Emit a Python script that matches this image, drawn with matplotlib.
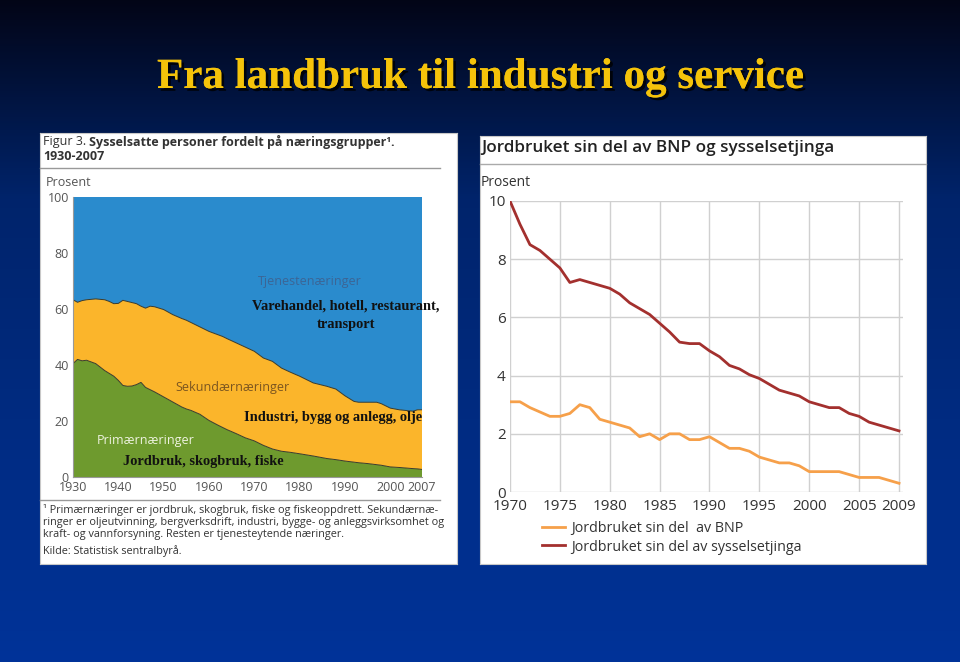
import numpy as np
import matplotlib
matplotlib.use("Agg")
import matplotlib.pyplot as plt
import matplotlib.patheffects as pe

W, H = 960, 662

# --- Figur 3: sysselsatte etter naeringsgruppe (prosent) ---
aar = [1930, 1931, 1932, 1933, 1935, 1937, 1938, 1939, 1940, 1941, 1942, 1943, 1944,
       1945, 1946, 1947, 1948, 1950, 1952, 1954, 1955, 1956, 1958, 1960, 1962, 1963,
       1964, 1966, 1968, 1970, 1972, 1974, 1976, 1978, 1980, 1983, 1985, 1986, 1988,
       1990, 1992, 1993, 1995, 1997, 1998, 2000, 2002, 2005, 2006, 2007]
primaer = [40.5, 42.0, 41.5, 41.7, 40.5, 38.0, 37.0, 36.0, 34.5, 32.7, 32.4, 32.5, 33.0,
           33.8, 32.0, 31.2, 30.4, 28.6, 26.8, 25.0, 24.3, 23.8, 22.4, 20.2, 18.5, 17.7,
           16.9, 15.5, 14.0, 12.9, 11.3, 10.0, 9.2, 8.8, 8.3, 7.5, 6.9, 6.6, 6.2,
           5.7, 5.3, 5.1, 4.8, 4.4, 4.2, 3.6, 3.4, 3.0, 2.9, 2.7]
sekundaer = [22.8, 20.4, 21.5, 21.6, 23.1, 25.3, 25.7, 25.9, 27.5, 30.4, 30.3, 29.8, 28.9,
             27.2, 28.3, 29.8, 30.4, 31.2, 31.2, 31.6, 31.7, 31.4, 31.2, 31.8, 32.3, 32.5,
             32.5, 32.4, 32.4, 32.0, 31.2, 31.3, 29.7, 28.6, 27.7, 26.1, 25.9, 25.8, 25.2,
             23.3, 21.7, 21.6, 21.9, 22.3, 22.0, 21.0, 20.6, 20.5, 21.1, 21.3]
tertiaer = [100 - p - s for p, s in zip(primaer, sekundaer)]
venstre_xticks = [1930, 1940, 1950, 1960, 1970, 1980, 1990, 2000, 2007]

# --- Jordbruket sin del av BNP og sysselsetjinga ---
aar2 = list(range(1970, 2010))
bnp = [3.1, 3.1, 2.9, 2.75, 2.6, 2.6, 2.7, 3.0, 2.9, 2.5,
       2.4, 2.3, 2.2, 1.9, 2.0, 1.8, 2.0, 2.0, 1.8, 1.8,
       1.9, 1.7, 1.5, 1.5, 1.4, 1.2, 1.1, 1.0, 1.0, 0.9,
       0.7, 0.7, 0.7, 0.7, 0.6, 0.5, 0.5, 0.5, 0.4, 0.3]
syss = [10.0, 9.2, 8.5, 8.3, 8.0, 7.7, 7.2, 7.3, 7.2, 7.1,
        7.0, 6.8, 6.5, 6.3, 6.1, 5.8, 5.5, 5.15, 5.1, 5.1,
        4.85, 4.65, 4.35, 4.23, 4.03, 3.9, 3.7, 3.5, 3.4, 3.3,
        3.1, 3.0, 2.9, 2.9, 2.7, 2.6, 2.4, 2.3, 2.2, 2.1]
hoyre_xticks = [1970, 1975, 1980, 1985, 1990, 1995, 2000, 2005, 2009]


def rect(x0, y0, x1, y1):
    return [x0 / W, 1 - y1 / H, (x1 - x0) / W, (y1 - y0) / H]


def fx(x):
    return x / W


def fy(y):
    return 1 - y / H


fig = plt.figure(figsize=(9.6, 6.62), dpi=100)

# background gradient
bg = fig.add_axes([0, 0, 1, 1], zorder=-10)
rows = np.linspace(0, 1, 300)[:, None]
top = np.array([0.01, 0.02, 0.09])
mid = np.array([0.0, 0.14, 0.42])
bot = np.array([0.0, 0.20, 0.60])
t1 = np.clip(rows / 0.3, 0, 1)
t2 = np.clip((rows - 0.3) / 0.7, 0, 1)
grad = np.where(rows < 0.3, top + (mid - top) * t1, mid + (bot - mid) * t2)
bg.imshow(grad[:, None, :].repeat(2, axis=1), aspect="auto", extent=[0, 1, 0, 1])
bg.set_axis_off()

# title
bg.text(0.5, fy(78), "Fra landbruk til industri og service", ha="center", va="center",
        family="Liberation Serif", weight="bold", fontsize=31, color="#f5c30a",
        path_effects=[pe.withSimplePatchShadow(offset=(2, -2), shadow_rgbFace="#000000", alpha=0.8), pe.Normal()])

# white panels (as axes behind the charts)
p1 = fig.add_axes(rect(40, 133, 457, 564), zorder=-5)
p2 = fig.add_axes(rect(480, 136, 926, 564), zorder=-5)
for p in (p1, p2):
    p.set_facecolor("white")
    p.set_xticks([])
    p.set_yticks([])
    for s in p.spines.values():
        s.set_color("#c8c8c8")
        s.set_linewidth(0.8)

sans = "Open Sans"
grey = "#555555"
serif_kw = dict(family="Liberation Serif", weight="bold", fontsize=10.4,
                ha="center", va="center", color="#111111")

# ---------- left chart ----------
t = fig.text(fx(43), fy(142), "Figur 3. ", family=sans, fontsize=9, color="#333333", va="center")
p1.annotate("Sysselsatte personer fordelt på næringsgrupper¹.", xy=(1, 0.5), xycoords=t,
            va="center", ha="left", family=sans, fontsize=9, weight="bold", color="#333333",
            annotation_clip=False)
fig.text(fx(43), fy(157), "1930-2007", family=sans, fontsize=9, weight="bold", color="#333333", va="center")
fig.add_artist(plt.Line2D([fx(40), fx(440)], [fy(168), fy(168)], color="#999999", lw=1))
fig.text(fx(46), fy(182), "Prosent", family=sans, fontsize=9, color=grey, va="center")

ax1 = fig.add_axes(rect(73, 197, 422, 477))
ax1.stackplot(aar, primaer, sekundaer, tertiaer,
              colors=["#6e9a2e", "#fbb52b", "#2a8bcd"], lw=0)
ax1.plot(aar, primaer, color="#3a3a2a", lw=0.7)
ax1.plot(aar, [p + s for p, s in zip(primaer, sekundaer)], color="#3a3a2a", lw=0.7)
ax1.set_xlim(1930, 2007)
ax1.set_ylim(0, 100)
ax1.set_xticks(venstre_xticks)
ax1.set_yticks([0, 20, 40, 60, 80, 100])
ax1.tick_params(length=0, labelsize=9, labelcolor=grey, pad=3)
for lab in ax1.get_xticklabels() + ax1.get_yticklabels():
    lab.set_family(sans)
for s in ["top", "right"]:
    ax1.spines[s].set_visible(False)
ax1.spines["left"].set_color("#999999")
ax1.spines["bottom"].set_color("#999999")

ax1.text(1982.3, 70, "Tjenestenæringer", family=sans, fontsize=9, color="#3c6595", ha="center", va="center")
ax1.text(1965.3, 31.8, "Sekundærnæringer", family=sans, fontsize=9, color="#7a5520", ha="center", va="center")
ax1.text(1946.1, 13.2, "Primærnæringer", family=sans, fontsize=9, color="#eef3e0", ha="center", va="center")
ax1.text(1990.2, 61.1, "Varehandel, hotell, restaurant,", clip_on=False, **serif_kw)
ax1.text(1990.2, 54.3, "transport", **serif_kw)
ax1.text(1987.4, 21.4, "Industri, bygg og anlegg, olje", clip_on=False, **serif_kw)
ax1.text(1958.7, 5.4, "Jordbruk, skogbruk, fiske", **serif_kw)

fig.add_artist(plt.Line2D([fx(40), fx(440)], [fy(500), fy(500)], color="#999999", lw=1))
foot = ["¹ Primærnæringer er jordbruk, skogbruk, fiske og fiskeoppdrett. Sekundærnæ-",
        "ringer er oljeutvinning, bergverksdrift, industri, bygge- og anleggsvirksomhet og",
        "kraft- og vannforsyning. Resten er tjenesteytende næringer."]
for i, line in enumerate(foot):
    fig.text(fx(43), fy(510 + i * 12.5), line, family=sans, fontsize=7.8, color="#333333", va="center")
fig.text(fx(43), fy(551), "Kilde: Statistisk sentralbyrå.", family=sans, fontsize=7.8, color="#333333", va="center")

# ---------- right chart ----------
fig.text(fx(481), fy(148), "Jordbruket sin del av BNP og sysselsetjinga", family=sans,
         fontsize=12.3, weight="semibold", color="#222222", va="center")
fig.add_artist(plt.Line2D([fx(480), fx(926)], [fy(164), fy(164)], color="#aaaaaa", lw=1))
fig.text(fx(481), fy(183), "Prosent", family=sans, fontsize=10, color="#333333", va="center")

ax2 = fig.add_axes(rect(510, 201, 903, 492))
ax2.plot(aar2, bnp, color="#f6a04a", lw=2, label="Jordbruket sin del  av BNP")
ax2.plot(aar2, syss, color="#a3302e", lw=2, label="Jordbruket sin del av sysselsetjinga")
ax2.set_xlim(1970, 2009.4)
ax2.set_ylim(0, 10)
ax2.set_xticks(hoyre_xticks)
ax2.set_yticks([0, 2, 4, 6, 8, 10])
ax2.grid(True, color="#d0d0d0", lw=1)
ax2.set_axisbelow(True)
ax2.set_facecolor("none")
ax2.tick_params(axis="x", length=0, labelsize=11, labelcolor="#333333", pad=5)
ax2.tick_params(axis="y", length=0, labelsize=11, labelcolor="#333333", pad=3)
for lab in ax2.get_xticklabels() + ax2.get_yticklabels():
    lab.set_family(sans)
for s in ax2.spines.values():
    s.set_visible(False)
ax2.legend(loc="upper left", bbox_to_anchor=(0.055, -0.065), frameon=False, handlelength=1.65,
           handletextpad=0.45, labelspacing=0.25, borderpad=0.2,
           prop={"family": sans, "size": 10.3}, labelcolor="#333333")

fig.savefig("out.png", dpi=100)
